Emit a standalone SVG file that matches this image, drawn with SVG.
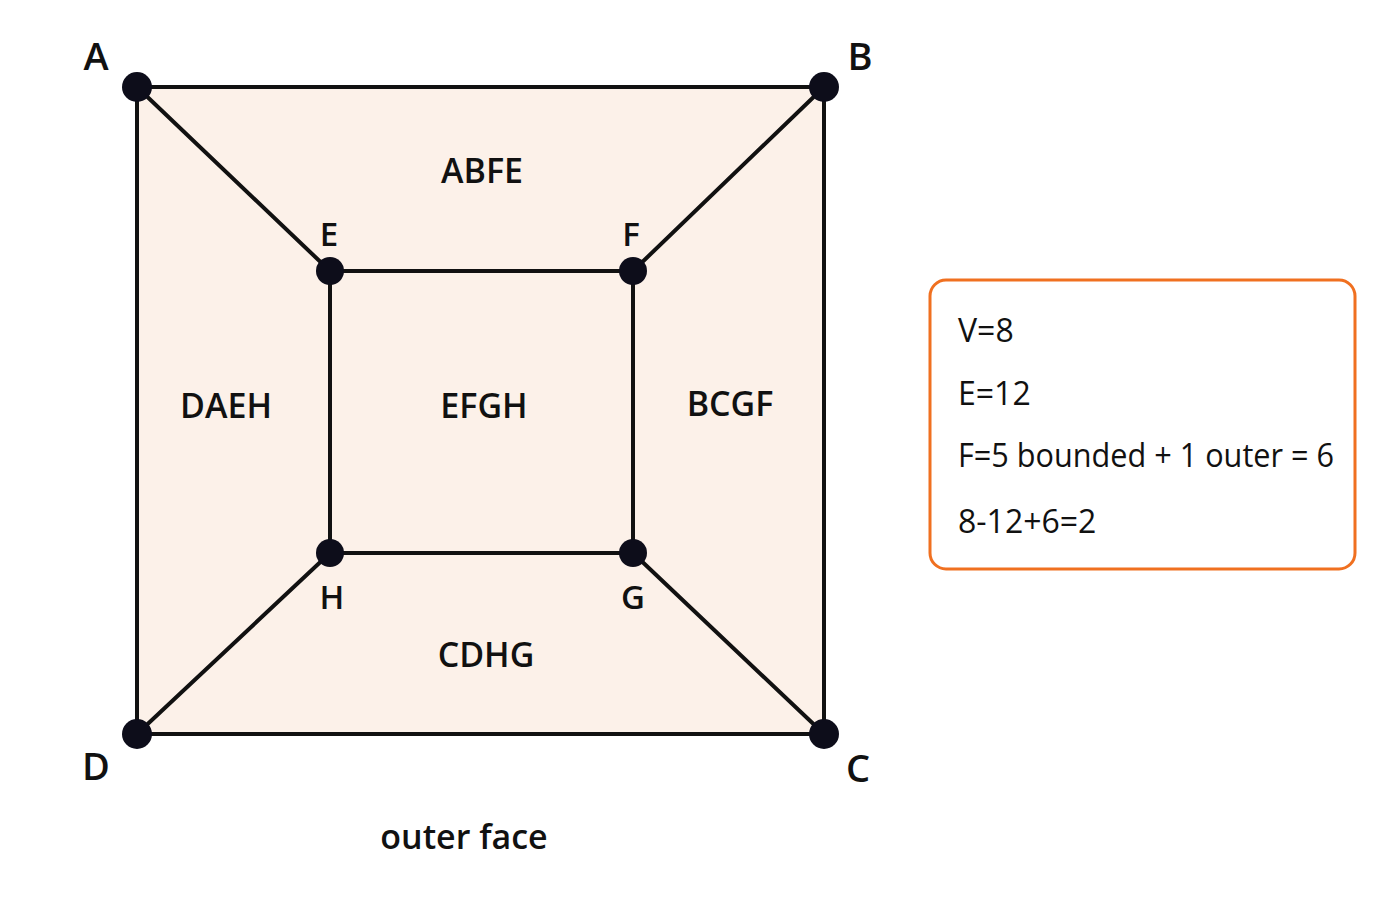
<svg xmlns="http://www.w3.org/2000/svg" width="1400" height="900" viewBox="0 0 1400 900">
<style>
.e{stroke:#111;stroke-width:4;fill:none;stroke-linecap:round}
.n{fill:#0d0d1a}
text{font-family:"Open Sans","Liberation Sans",Arial,sans-serif;font-weight:600;fill:#111}
.v{font-size:38px;text-anchor:middle}
.vs{font-size:33px;text-anchor:middle}
.f{font-size:34px;text-anchor:middle}
.t{font-size:32px;font-weight:500}
</style>
<rect width="1400" height="900" fill="#fff"/>
<rect x="137" y="87" width="687" height="647" fill="#fcf1e9"/>
<g id="connectors">
<path class="e" d="M137 87H824V734H137Z"/>
<path class="e" d="M330 271H633V553H330Z"/>
<path class="e" d="M137 87L330 271M824 87L633 271M824 734L633 553M137 734L330 553"/>
</g>
<g id="A"><circle class="n" cx="137" cy="87" r="15"/><text class="v" x="96" y="70">A</text></g>
<g id="B"><circle class="n" cx="824" cy="87" r="15"/><text class="v" x="860" y="70">B</text></g>
<g id="C"><circle class="n" cx="824" cy="734" r="15"/><text class="v" x="858" y="782">C</text></g>
<g id="D"><circle class="n" cx="137" cy="734" r="15"/><text class="v" x="96" y="780">D</text></g>
<g id="E"><circle class="n" cx="330" cy="271" r="14"/><text class="vs" x="329" y="246">E</text></g>
<g id="F"><circle class="n" cx="633" cy="271" r="14"/><text class="vs" x="631" y="246">F</text></g>
<g id="G"><circle class="n" cx="633" cy="553" r="14"/><text class="vs" x="633" y="609">G</text></g>
<g id="H"><circle class="n" cx="330" cy="553" r="14"/><text class="vs" x="332" y="609">H</text></g>
<g id="faces">
<text class="f" x="482" y="183">ABFE</text>
<text class="f" x="226" y="418">DAEH</text>
<text class="f" x="484" y="418">EFGH</text>
<text class="f" x="730" y="416">BCGF</text>
<text class="f" x="486" y="667">CDHG</text>
<text class="f" x="464" y="849" font-size="40">outer face</text>
</g>
<g id="summary">
<rect x="930" y="280" width="425" height="289" rx="16" fill="#fff" stroke="#f07020" stroke-width="3"/>
<text class="t" x="958" y="342">V=8</text>
<text class="t" x="958" y="405">E=12</text>
<text class="t" x="958" y="467" textLength="376" lengthAdjust="spacingAndGlyphs">F=5 bounded + 1 outer = 6</text>
<text class="t" x="958" y="533">8-12+6=2</text>
</g>
</svg>
